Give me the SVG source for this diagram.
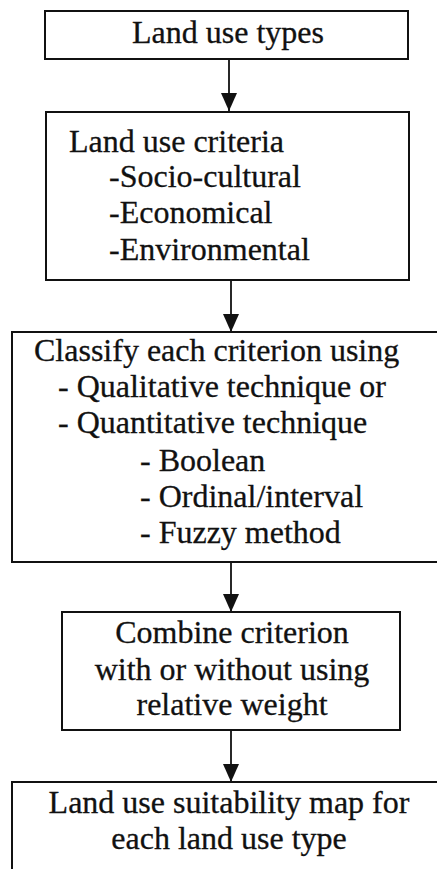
<svg xmlns="http://www.w3.org/2000/svg" width="437" height="869" viewBox="0 0 437 869">
  <style>
    .box { fill: #ffffff; stroke: #111111; stroke-width: 2; }
    .lbl { font-family: 'Liberation Serif', 'Times New Roman', Times, serif; font-size: 32px; fill: #111111; stroke: #111111; stroke-width: 0.3; }
    .mid { text-anchor: middle; }
    .link { stroke: #111111; stroke-width: 1.8; fill: none; marker-end: url(#head); }
  </style>
  <defs>
    <marker id="head" viewBox="0 0 18 16" refX="18" refY="8" markerWidth="18" markerHeight="16" markerUnits="userSpaceOnUse" orient="auto">
      <path d="M0,0 L18,8 L0,16 Z" fill="#111111"/>
    </marker>
  </defs>
  <rect width="437" height="869" fill="#ffffff"/>

  <g id="connectors">
    <line class="link" x1="229" y1="59" x2="229" y2="111"/>
    <line class="link" x1="231" y1="280" x2="231" y2="332"/>
    <line class="link" x1="231" y1="562" x2="231" y2="612"/>
    <line class="link" x1="231" y1="730" x2="231" y2="782"/>
  </g>

  <g id="land-use-types">
    <rect class="box" x="45" y="11" width="363" height="48"/>
    <text class="lbl mid" x="228" y="43">Land use types</text>
  </g>

  <g id="land-use-criteria">
    <rect class="box" x="46" y="112" width="363" height="168"/>
    <text class="lbl" x="69" y="152">Land use criteria</text>
    <text class="lbl" x="109" y="187">-Socio-cultural</text>
    <text class="lbl" x="109" y="223">-Economical</text>
    <text class="lbl" x="109" y="260">-Environmental</text>
  </g>

  <g id="classify-criteria">
    <rect class="box" x="12" y="332" width="430" height="230"/>
    <text class="lbl" x="34" y="361">Classify each criterion using</text>
    <text class="lbl" x="58" y="397">- Qualitative technique or</text>
    <text class="lbl" x="58" y="433">- Quantitative technique</text>
    <text class="lbl" x="140" y="471">- Boolean</text>
    <text class="lbl" x="140" y="507">- Ordinal/interval</text>
    <text class="lbl" x="140" y="543">- Fuzzy method</text>
  </g>

  <g id="combine-criteria">
    <rect class="box" x="62" y="612" width="338" height="118"/>
    <text class="lbl mid" x="232" y="643">Combine criterion</text>
    <text class="lbl mid" x="232" y="680">with or without using</text>
    <text class="lbl mid" x="232" y="715">relative weight</text>
  </g>

  <g id="suitability-map">
    <rect class="box" x="12" y="782" width="430" height="120"/>
    <text class="lbl mid" x="229" y="813">Land use suitability map for</text>
    <text class="lbl mid" x="229" y="849">each land use type</text>
  </g>
</svg>
